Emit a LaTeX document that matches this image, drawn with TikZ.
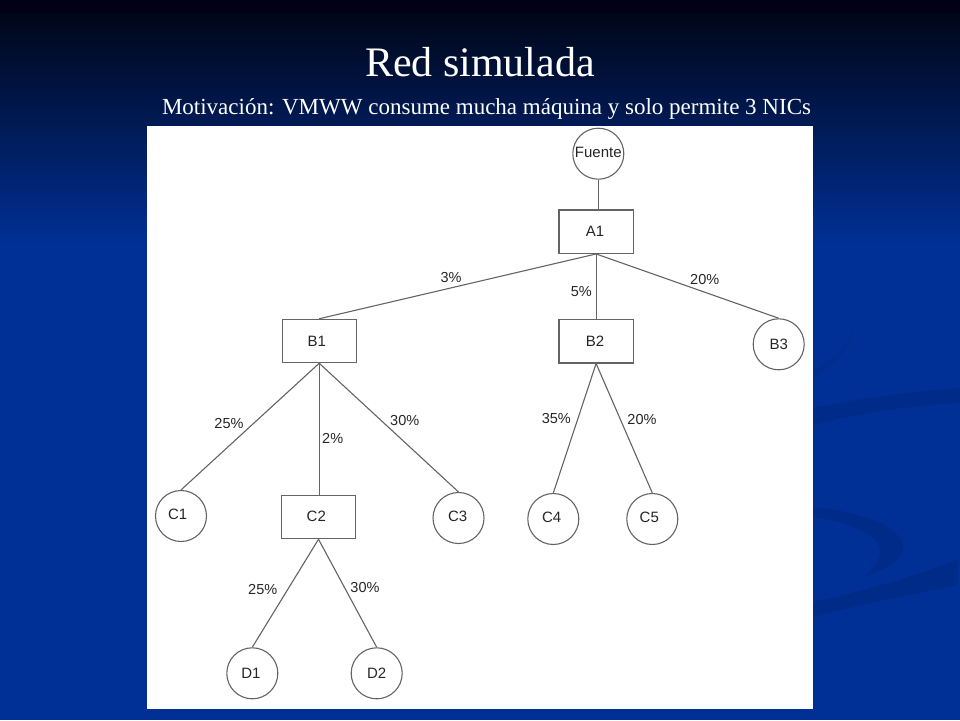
\documentclass[tikz,border=0pt]{standalone}
\usepackage{fontspec}
\setmainfont{Liberation Serif}
\setsansfont{Liberation Sans}
\definecolor{deepblue}{RGB}{0,48,150}
\definecolor{topdark}{RGB}{0,6,24}
\definecolor{topband}{RGB}{2,0,20}
\definecolor{swoosh}{RGB}{0,43,136}
\definecolor{swooshfaint}{RGB}{0,46,143}
\definecolor{edgegray}{RGB}{100,100,100}
\definecolor{inkgray}{RGB}{38,38,38}
\tikzset{
  x=1pt,y=-1pt,
  tagtext/.style={font=\sffamily\fontsize{15}{17}\selectfont,text=inkgray,inner sep=0pt},
  boxnode/.style={draw=edgegray,line width=1.1pt,fill=white,minimum width=74.3pt,minimum height=43.4pt,inner sep=0pt},
  circnode/.style={draw=edgegray,line width=1.1pt,fill=white,circle,minimum size=51pt,inner sep=0pt},
  link/.style={draw=edgegray,line width=1.1pt},
  pct/.style={font=\sffamily\fontsize{14.5}{16}\selectfont,text=inkgray,inner sep=0pt},
  heading/.style={text=white,inner sep=0pt,anchor=base}
}
\begin{document}
\begin{tikzpicture}
\useasboundingbox (0,0) rectangle (960,720);
\fill[deepblue] (0,0) rectangle (960,720);
\shade[top color=topdark,bottom color=deepblue] (0,12) rectangle (960,245);
\fill[topband] (0,0) rectangle (960,12.5);
% background swooshes
\fill[swoosh] (813,425) .. controls (860,412) and (910,406) .. (960,403) -- (960,388) .. controls (910,392) and (860,398) .. (813,408) -- cycle;
\fill[swoosh] (813,617) .. controls (860,604) and (910,595) .. (957,585) -- (957,560) .. controls (910,578) and (860,592) .. (813,602) -- cycle;
\fill[swoosh] (813,507) .. controls (850,510) and (905,525) .. (903,548) .. controls (901,562) and (880,572) .. (863,577) .. controls (875,568) and (882,558) .. (880,548) .. controls (875,532) and (840,520) .. (813,517) -- cycle;
\fill[swooshfaint] (813,370) .. controls (832,360) and (850,345) .. (855,323) .. controls (852,345) and (840,362) .. (813,378) -- cycle;
% title
\node[heading,font=\fontsize{42}{46}\selectfont] (title) at (480,76) {Red simulada};
\node[heading,font=\fontsize{23}{26}\selectfont] (subtitle) at (486.5,114.5) {Motivación: VMWW consume mucha máquina y solo permite 3 NICs};
% panel
\fill[white] (147,126) rectangle (813,709);
% nodes
\node[circnode,label={[tagtext,yshift=1pt]center:Fuente}] (F) at (598.3,153.7) {};
\node[boxnode,label={[tagtext,xshift=-1pt]center:A1}] (A1) at (596.1,231.7) {};
\node[boxnode,label={[tagtext,xshift=-2.5pt]center:B1}] (B1) at (319.2,341) {};
\node[boxnode,label={[tagtext,xshift=-1pt]center:B2}] (B2) at (596.1,341.3) {};
\node[circnode,label={[tagtext]center:B3}] (B3) at (778.7,344.3) {};
\node[circnode,label={[tagtext,xshift=-3.3pt,yshift=2pt]center:C1}] (C1) at (181,516) {};
\node[boxnode,label={[tagtext,xshift=-2.2pt,yshift=1pt]center:C2}] (C2) at (318.5,517) {};
\node[circnode,label={[tagtext,xshift=-0.8pt,yshift=1.3pt]center:C3}] (C3) at (458.5,518) {};
\node[circnode,label={[tagtext,xshift=-1.6pt,yshift=1.3pt]center:C4}] (C4) at (553.3,519) {};
\node[circnode,label={[tagtext,xshift=-3pt,yshift=1.3pt]center:C5}] (C5) at (652.3,519) {};
\node[circnode,label={[tagtext,xshift=-1.3pt]center:D1}] (D1) at (252.3,673.3) {};
\node[circnode,label={[tagtext,yshift=0.3pt]center:D2}] (D2) at (376.7,673.3) {};
% connectors
\draw[link] (F.south) -- (F.south |- A1.north);
\draw[link] (A1.south) -- (B1.north);
\draw[link] (A1.south) -- (B2.north);
\draw[link] (A1.south) -- (B3.north);
\draw[link] (B1.south) -- (C1.north);
\draw[link] (B1.south) -- (B1.south |- C2.north);
\draw[link] (B1.south) -- (C3.north);
\draw[link] (B2.south) -- (C4.north);
\draw[link] (B2.south) -- (C5.north);
\draw[link] (C2.south) -- (D1.north);
\draw[link] (C2.south) -- (D2.north);
% labels
\node[pct] (l1) at (451,277.5) {3\%};
\node[pct] (l2) at (581.3,291.7) {5\%};
\node[pct] (l3) at (704.7,280) {20\%};
\node[pct] (l4) at (229,424) {25\%};
\node[pct] (l5) at (332.7,438) {2\%};
\node[pct] (l6) at (404.7,420.7) {30\%};
\node[pct] (l7) at (556.3,418.7) {35\%};
\node[pct] (l8) at (642,420) {20\%};
\node[pct] (l9) at (262.7,589.3) {25\%};
\node[pct] (l10) at (365,587.3) {30\%};
\end{tikzpicture}
\end{document}
